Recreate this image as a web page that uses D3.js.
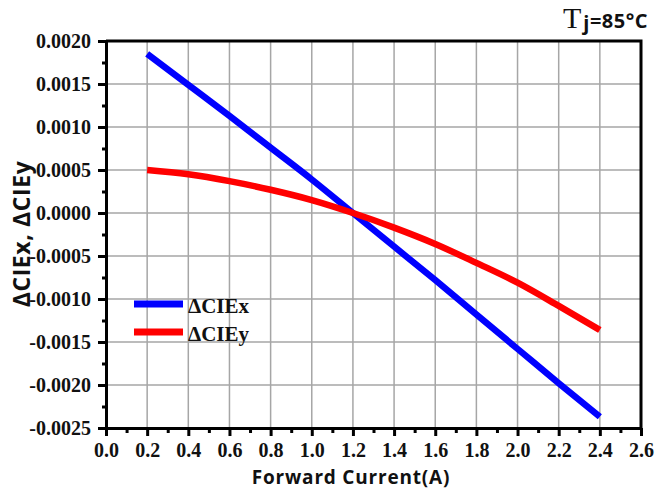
<!DOCTYPE html>
<html>
<head>
<meta charset="utf-8">
<script src="https://cdn.jsdelivr.net/npm/d3@7"></script>
<style>
  html, body { margin: 0; padding: 0; background: #fff; }
  svg { display: block; }
</style>
</head>
<body>
<svg id="chart" width="656" height="495"></svg>
<script>
// Forward current (A)
const current = [0.2, 0.4, 0.6, 0.8, 1.0, 1.2, 1.4, 1.6, 1.8, 2.0, 2.2, 2.4];
// Chromaticity shift relative to 1.2 A
const dCIEx = [0.00185, 0.00149, 0.00113, 0.00076, 0.00039, 0.00000, -0.00039, -0.00078, -0.00118, -0.00158, -0.00198, -0.00237];
const dCIEy = [0.00050, 0.00045, 0.00037, 0.00027, 0.00015, 0.00000, -0.00017, -0.00036, -0.00058, -0.00081, -0.00108, -0.00136];
const seriesNames = ["\u0394CIEx", "\u0394CIEy"];
const seriesColors = ["#0000ff", "#ff0000"];
const xTicks = [0.0, 0.2, 0.4, 0.6, 0.8, 1.0, 1.2, 1.4, 1.6, 1.8, 2.0, 2.2, 2.4, 2.6];
const yTicks = [-0.0025, -0.0020, -0.0015, -0.0010, -0.0005, 0.0000, 0.0005, 0.0010, 0.0015, 0.0020];

const svg = d3.select("#chart");
const plotLeft = 106, plotRight = 641, plotTop = 41, plotBottom = 428;

const x = d3.scaleLinear().domain([0, 2.6]).range([plotLeft, plotRight]);
const y = d3.scaleLinear().domain([-0.0025, 0.002]).range([plotBottom, plotTop]);

const serif = "'Liberation Serif', 'Times New Roman', serif";
const sans = "'Open Sans', 'Noto Sans', sans-serif";

// grid
const grid = svg.append("g");
grid.selectAll(".gx").data(xTicks.slice(1, -1)).enter().append("line")
  .attr("x1", d => x(d)).attr("x2", d => x(d))
  .attr("y1", plotTop).attr("y2", plotBottom)
  .attr("stroke", "#a6a6a6").attr("stroke-width", 1.5);
grid.selectAll(".gy").data(yTicks.slice(1, -1)).enter().append("line")
  .attr("y1", d => y(d)).attr("y2", d => y(d))
  .attr("x1", plotLeft).attr("x2", plotRight)
  .attr("stroke", "#a6a6a6").attr("stroke-width", 1.5);

// minor ticks
const xMinor = d3.range(0.1, 2.6, 0.2);
const yMinor = d3.range(-0.00225, 0.002, 0.0005);

const xAxis = svg.append("g").attr("transform", `translate(0,${plotBottom})`)
  .call(d3.axisBottom(x).tickValues(xTicks).tickFormat(d3.format(".1f")).tickSize(8).tickSizeOuter(0));
const xAxisMinor = svg.append("g").attr("transform", `translate(0,${plotBottom})`)
  .call(d3.axisBottom(x).tickValues(xMinor).tickFormat("").tickSize(5).tickSizeOuter(0));
const yAxis = svg.append("g").attr("transform", `translate(${plotLeft},0)`)
  .call(d3.axisLeft(y).tickValues(yTicks).tickFormat(d => d3.format(".4f")(d).replace("\u2212", "-")).tickSize(8).tickSizeOuter(0));
const yAxisMinor = svg.append("g").attr("transform", `translate(${plotLeft},0)`)
  .call(d3.axisLeft(y).tickValues(yMinor).tickFormat("").tickSize(4).tickSizeOuter(0));

[xAxis, xAxisMinor, yAxis, yAxisMinor].forEach(g => {
  g.attr("font-family", serif);
  g.select(".domain").attr("stroke", "#000").attr("stroke-width", 3);
  g.selectAll(".tick line").attr("stroke", "#000").attr("stroke-width", 3);
});
xAxis.selectAll("text").attr("font-family", serif).attr("font-weight", "bold")
  .attr("font-size", 20).attr("fill", "#111").attr("y", 29).attr("dy", 0);
yAxis.selectAll("text").attr("font-family", serif).attr("font-weight", "bold")
  .attr("font-size", 20).attr("fill", "#111").attr("x", -15);

// frame top/right
svg.append("path")
  .attr("d", `M${plotLeft},${plotTop}H${plotRight}V${plotBottom}`)
  .attr("fill", "none").attr("stroke", "#000").attr("stroke-width", 3);

// series
const line = d3.line().x(d => x(d[0])).y(d => y(d[1])).curve(d3.curveMonotoneX);
[dCIEx, dCIEy].forEach((vals, i) => {
  svg.append("path")
    .datum(current.map((c, j) => [c, vals[j]]))
    .attr("d", line)
    .attr("fill", "none")
    .attr("stroke", seriesColors[i])
    .attr("stroke-width", 6.5);
});

// legend
const legend = svg.append("g");
seriesNames.forEach((name, i) => {
  const ly = 304 + i * 28;
  legend.append("line").attr("x1", 134).attr("x2", 183).attr("y1", ly).attr("y2", ly)
    .attr("stroke", seriesColors[i]).attr("stroke-width", 7);
  legend.append("text").attr("x", 188).attr("y", ly + 9).text(name)
    .attr("font-family", serif).attr("font-weight", "bold").attr("font-size", 21).attr("fill", "#111");
});

// axis titles
svg.append("text").attr("x", 351).attr("y", 484)
  .attr("text-anchor", "middle").attr("font-family", sans).attr("font-weight", "bold")
  .attr("font-size", 19).attr("letter-spacing", 0.8).attr("fill", "#111").text("Forward Current(A)");
svg.append("text")
  .attr("transform", "translate(30,234) rotate(-90)")
  .attr("text-anchor", "middle").attr("font-family", sans).attr("font-weight", "bold")
  .attr("font-size", 23).attr("letter-spacing", 0.6).attr("fill", "#111").text("\u0394CIEx, \u0394CIEy");

// junction temperature note
const note = svg.append("text").attr("x", 648).attr("y", 28).attr("text-anchor", "end")
  .attr("fill", "#111");
note.append("tspan").attr("font-family", serif).attr("font-size", 30).text("T");
note.append("tspan").attr("font-family", sans).attr("font-weight", "bold").attr("font-size", 20)
  .attr("letter-spacing", 0.5).attr("dy", 2).attr("dx", 2).text("j");
note.append("tspan").attr("font-family", sans).attr("font-weight", "bold").attr("font-size", 20)
  .attr("letter-spacing", 0.5).attr("dy", -2).text("=85\u00b0C");
</script>
</body>
</html>
